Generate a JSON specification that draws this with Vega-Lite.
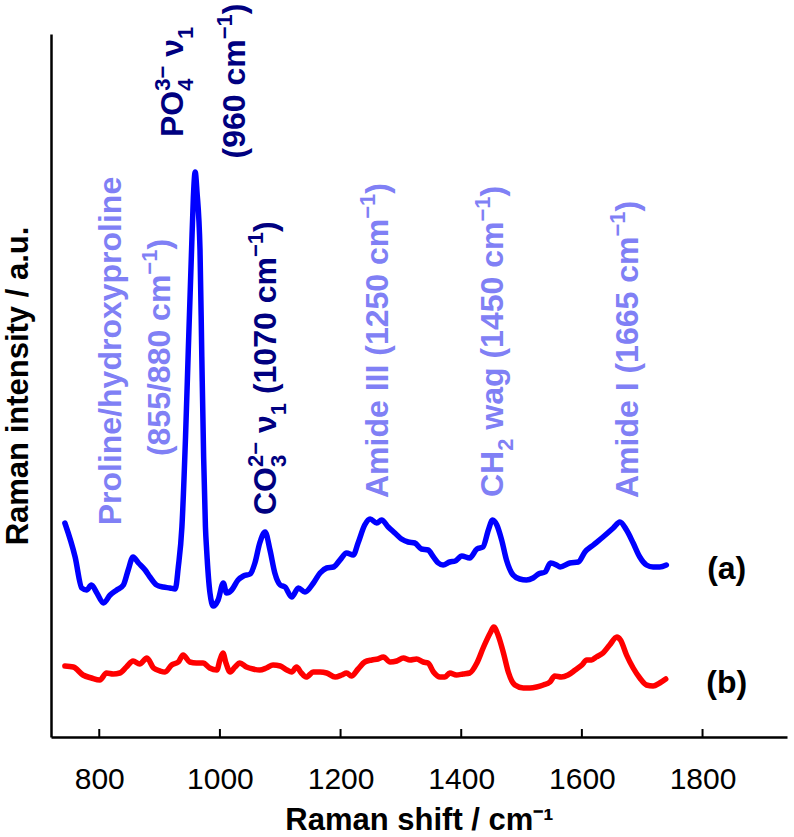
{
  "$schema": "https://vega.github.io/schema/vega-lite/v6.json",
  "width": 736,
  "height": 703,
  "autosize": {"type": "none"},
  "padding": {"left": 51, "top": 34, "right": 7, "bottom": 100},
  "config": {"view": {"stroke": null}, "font": "Liberation Sans"},
  "datasets": {
    "spectra": [
      {"s":"a","v":743,"i":214},{"s":"a","v":760,"i":180},{"s":"a","v":771,"i":149},{"s":"a","v":779,"i":147},{"s":"a","v":787,"i":152},{"s":"a","v":796,"i":144},{"s":"a","v":807,"i":134},{"s":"a","v":818,"i":142},{"s":"a","v":829,"i":147},{"s":"a","v":840,"i":152},{"s":"a","v":848,"i":167},{"s":"a","v":856,"i":180},{"s":"a","v":865,"i":174},{"s":"a","v":876,"i":167},{"s":"a","v":884,"i":160},{"s":"a","v":895,"i":152},{"s":"a","v":906,"i":150},{"s":"a","v":917,"i":149},{"s":"a","v":926,"i":148},{"s":"a","v":931,"i":170},{"s":"a","v":937,"i":210},{"s":"a","v":943,"i":300},{"s":"a","v":947.6,"i":387},{"s":"a","v":953,"i":487},{"s":"a","v":956,"i":540},{"s":"a","v":959,"i":565},{"s":"a","v":962,"i":545},{"s":"a","v":967,"i":487},{"s":"a","v":970,"i":380},{"s":"a","v":973,"i":280},{"s":"a","v":976,"i":210},{"s":"a","v":978,"i":187},{"s":"a","v":983.5,"i":144},{"s":"a","v":989,"i":131},{"s":"a","v":997,"i":137},{"s":"a","v":1005.6,"i":154},{"s":"a","v":1011,"i":144},{"s":"a","v":1019.5,"i":147},{"s":"a","v":1030,"i":157},{"s":"a","v":1039,"i":161},{"s":"a","v":1050,"i":163},{"s":"a","v":1058,"i":174},{"s":"a","v":1066,"i":194},{"s":"a","v":1075,"i":205},{"s":"a","v":1083,"i":187},{"s":"a","v":1091,"i":164},{"s":"a","v":1100,"i":152},{"s":"a","v":1108,"i":150},{"s":"a","v":1119,"i":140},{"s":"a","v":1130,"i":149},{"s":"a","v":1141,"i":145},{"s":"a","v":1155,"i":154},{"s":"a","v":1166,"i":164},{"s":"a","v":1177,"i":169},{"s":"a","v":1188,"i":170},{"s":"a","v":1199,"i":177},{"s":"a","v":1210,"i":184},{"s":"a","v":1221,"i":182},{"s":"a","v":1229,"i":194},{"s":"a","v":1240,"i":212},{"s":"a","v":1249,"i":218},{"s":"a","v":1260,"i":214},{"s":"a","v":1268,"i":217},{"s":"a","v":1279,"i":210},{"s":"a","v":1290,"i":204},{"s":"a","v":1301,"i":198},{"s":"a","v":1312,"i":195},{"s":"a","v":1323,"i":194},{"s":"a","v":1334,"i":188},{"s":"a","v":1345,"i":187},{"s":"a","v":1354,"i":180},{"s":"a","v":1362,"i":174},{"s":"a","v":1370,"i":172},{"s":"a","v":1381,"i":175},{"s":"a","v":1390,"i":176},{"s":"a","v":1401,"i":181},{"s":"a","v":1414,"i":179},{"s":"a","v":1426,"i":188},{"s":"a","v":1436,"i":190},{"s":"a","v":1445,"i":207},{"s":"a","v":1452,"i":217},{"s":"a","v":1459,"i":212},{"s":"a","v":1467,"i":197},{"s":"a","v":1475,"i":177},{"s":"a","v":1486,"i":162},{"s":"a","v":1497,"i":158},{"s":"a","v":1508,"i":157},{"s":"a","v":1519,"i":159},{"s":"a","v":1528,"i":163},{"s":"a","v":1539,"i":165},{"s":"a","v":1548,"i":174},{"s":"a","v":1558,"i":172},{"s":"a","v":1564,"i":170},{"s":"a","v":1580,"i":174},{"s":"a","v":1594,"i":175},{"s":"a","v":1605,"i":185},{"s":"a","v":1619,"i":192},{"s":"a","v":1635,"i":200},{"s":"a","v":1652,"i":209},{"s":"a","v":1663,"i":215},{"s":"a","v":1674,"i":207},{"s":"a","v":1685,"i":194},{"s":"a","v":1696,"i":180},{"s":"a","v":1707,"i":172},{"s":"a","v":1718,"i":170},{"s":"a","v":1729,"i":170},{"s":"a","v":1740,"i":172},
      {"s":"b","v":743,"i":71},{"s":"b","v":757,"i":70},{"s":"b","v":773,"i":62},{"s":"b","v":787,"i":59},{"s":"b","v":801,"i":57},{"s":"b","v":812,"i":64},{"s":"b","v":823,"i":63},{"s":"b","v":834,"i":64},{"s":"b","v":845,"i":70},{"s":"b","v":856,"i":76},{"s":"b","v":867,"i":73},{"s":"b","v":879,"i":79},{"s":"b","v":890,"i":69},{"s":"b","v":901,"i":66},{"s":"b","v":909,"i":65},{"s":"b","v":920,"i":72},{"s":"b","v":931,"i":75},{"s":"b","v":939,"i":82},{"s":"b","v":950,"i":75},{"s":"b","v":961,"i":74},{"s":"b","v":972,"i":74},{"s":"b","v":983,"i":69},{"s":"b","v":995,"i":67},{"s":"b","v":1000,"i":77},{"s":"b","v":1005,"i":84},{"s":"b","v":1010,"i":74},{"s":"b","v":1017,"i":65},{"s":"b","v":1025,"i":70},{"s":"b","v":1033,"i":74},{"s":"b","v":1044,"i":70},{"s":"b","v":1055,"i":68},{"s":"b","v":1066,"i":67},{"s":"b","v":1077,"i":69},{"s":"b","v":1088,"i":72},{"s":"b","v":1100,"i":71},{"s":"b","v":1111,"i":67},{"s":"b","v":1119,"i":65},{"s":"b","v":1127,"i":70},{"s":"b","v":1135,"i":64},{"s":"b","v":1143,"i":60},{"s":"b","v":1155,"i":65},{"s":"b","v":1166,"i":65},{"s":"b","v":1177,"i":64},{"s":"b","v":1191,"i":60},{"s":"b","v":1202,"i":62},{"s":"b","v":1210,"i":64},{"s":"b","v":1218,"i":61},{"s":"b","v":1229,"i":68},{"s":"b","v":1240,"i":75},{"s":"b","v":1252,"i":77},{"s":"b","v":1262,"i":78},{"s":"b","v":1271,"i":80},{"s":"b","v":1282,"i":75},{"s":"b","v":1293,"i":76},{"s":"b","v":1304,"i":79},{"s":"b","v":1315,"i":77},{"s":"b","v":1326,"i":78},{"s":"b","v":1337,"i":75},{"s":"b","v":1345,"i":74},{"s":"b","v":1354,"i":65},{"s":"b","v":1365,"i":60},{"s":"b","v":1373,"i":60},{"s":"b","v":1381,"i":64},{"s":"b","v":1392,"i":62},{"s":"b","v":1403,"i":63},{"s":"b","v":1414,"i":64},{"s":"b","v":1426,"i":74},{"s":"b","v":1437,"i":90},{"s":"b","v":1448,"i":104},{"s":"b","v":1454,"i":110},{"s":"b","v":1461,"i":102},{"s":"b","v":1470,"i":84},{"s":"b","v":1478,"i":65},{"s":"b","v":1489,"i":52},{"s":"b","v":1503,"i":49},{"s":"b","v":1514,"i":49},{"s":"b","v":1525,"i":50},{"s":"b","v":1536,"i":52},{"s":"b","v":1547,"i":55},{"s":"b","v":1555,"i":61},{"s":"b","v":1566,"i":60},{"s":"b","v":1577,"i":62},{"s":"b","v":1589,"i":67},{"s":"b","v":1600,"i":72},{"s":"b","v":1608,"i":77},{"s":"b","v":1616,"i":77},{"s":"b","v":1624,"i":80},{"s":"b","v":1635,"i":84},{"s":"b","v":1646,"i":92},{"s":"b","v":1658,"i":100},{"s":"b","v":1664,"i":97},{"s":"b","v":1674,"i":82},{"s":"b","v":1685,"i":69},{"s":"b","v":1696,"i":59},{"s":"b","v":1707,"i":52},{"s":"b","v":1718,"i":51},{"s":"b","v":1729,"i":54},{"s":"b","v":1739,"i":58}
    ],
    "notes": [
      {"k":"main","g":"matrix","t":"Proline/hydroxyproline","x":836,"y":211.7},
      {"k":"main","g":"matrix","t":"(855/880 cm","x":917.3,"y":280.9},
      {"k":"sup","g":"matrix","t":"−1","x":917.3,"y":462.3},
      {"k":"main","g":"matrix","t":")","x":917.3,"y":487.4},
      {"k":"main","g":"mineral","t":"PO","x":938.8,"y":600},
      {"k":"sup","g":"mineral","t":"3−","x":938.8,"y":646.2},
      {"k":"sub","g":"mineral","t":"4","x":938.8,"y":646.2},
      {"k":"main","g":"mineral","t":"ν","x":938.8,"y":680.2},
      {"k":"sub","g":"mineral","t":"1","x":938.8,"y":698},
      {"k":"main","g":"mineral","t":"(960 cm","x":1041.6,"y":578.5},
      {"k":"sup","g":"mineral","t":"−1","x":1041.6,"y":697.7},
      {"k":"main","g":"mineral","t":")","x":1041.6,"y":722.8},
      {"k":"main","g":"mineral","t":"CO","x":1093,"y":222},
      {"k":"sup","g":"mineral","t":"2−","x":1093,"y":270},
      {"k":"sub","g":"mineral","t":"3","x":1093,"y":270},
      {"k":"main","g":"mineral","t":"ν","x":1093,"y":304},
      {"k":"sub","g":"mineral","t":"1","x":1093,"y":321.8},
      {"k":"main","g":"mineral","t":"(1070 cm","x":1093,"y":342.9},
      {"k":"sup","g":"mineral","t":"−1","x":1093,"y":479.9},
      {"k":"main","g":"mineral","t":")","x":1093,"y":505},
      {"k":"main","g":"matrix","t":"Amide III (1250 cm","x":1278.6,"y":239},
      {"k":"sup","g":"matrix","t":"−1","x":1278.6,"y":518.2},
      {"k":"main","g":"matrix","t":")","x":1278.6,"y":543.3},
      {"k":"main","g":"matrix","t":"CH","x":1469.2,"y":240},
      {"k":"sub","g":"matrix","t":"2","x":1469.2,"y":286.2},
      {"k":"main","g":"matrix","t":"wag (1450 cm","x":1469.2,"y":307.3},
      {"k":"sup","g":"matrix","t":"−1","x":1469.2,"y":515.4},
      {"k":"main","g":"matrix","t":")","x":1469.2,"y":540.5},
      {"k":"main","g":"matrix","t":"Amide I (1665 cm","x":1693,"y":239},
      {"k":"sup","g":"matrix","t":"−1","x":1693,"y":500.4},
      {"k":"main","g":"matrix","t":")","x":1693,"y":525.5}
    ],
    "tags": [
      {"t":"(a)","x":1840,"y":168},
      {"t":"(b)","x":1840,"y":54}
    ],
    "ticks": [
      {"v":800},{"v":1000},{"v":1200},{"v":1400},{"v":1600},{"v":1800}
    ]
  },
  "layer": [
    {
      "data": {"name": "spectra"},
      "mark": {"type": "line", "strokeWidth": 5.5, "interpolate": "monotone", "strokeCap": "round", "strokeJoin": "round"},
      "encoding": {
        "x": {"field": "v", "type": "quantitative",
          "scale": {"domain": [720, 1940], "nice": false, "zero": false},
          "axis": {"values": [800, 1000, 1200, 1400, 1600, 1800], "format": "d", "grid": false, "ticks": false,
            "title": "Raman shift / cm⁻¹", "titleFontSize": 31, "titleFontWeight": "bold", "titleColor": "black", "titleFont": "Liberation Sans", "titlePadding": 11,
            "labelFontSize": 30, "labelColor": "black", "labelFont": "Liberation Sans", "labelPadding": 27, "labelFlush": false,
            "domainColor": "black", "domainWidth": 2.5}},
        "y": {"field": "i", "type": "quantitative",
          "scale": {"domain": [0, 703], "nice": false, "zero": false},
          "axis": {"labels": false, "ticks": false, "grid": false, "domainColor": "black", "domainWidth": 2.5,
            "title": "Raman intensity / a.u.", "titleFontSize": 31, "titleFontWeight": "bold", "titleColor": "black", "titleFont": "Liberation Sans", "titlePadding": 17}},
        "color": {"field": "s", "type": "nominal",
          "scale": {"domain": ["a", "b", "mineral", "matrix"], "range": ["#0000ff", "#ff0000", "#000080", "#8080f5"]}, "legend": null}
      }
    },
    {
      "data": {"name": "ticks"},
      "mark": {"type": "rule", "color": "black", "strokeWidth": 2},
      "encoding": {
        "x": {"field": "v", "type": "quantitative"},
        "y": {"datum": 0},
        "y2": {"datum": 8}
      }
    },
    {
      "data": {"name": "notes"},
      "transform": [{"filter": "datum.k === 'main'"}],
      "mark": {"type": "text", "angle": 270, "align": "left", "baseline": "alphabetic", "fontSize": 32, "fontWeight": "bold", "font": "Liberation Sans"},
      "encoding": {
        "x": {"field": "x", "type": "quantitative"},
        "y": {"field": "y", "type": "quantitative"},
        "text": {"field": "t"},
        "color": {"field": "g", "type": "nominal", "scale": {"domain": ["a", "b", "mineral", "matrix"], "range": ["#0000ff", "#ff0000", "#000080", "#8080f5"]}, "legend": null}
      }
    },
    {
      "data": {"name": "notes"},
      "transform": [{"filter": "datum.k === 'sup'"}],
      "mark": {"type": "text", "angle": 270, "align": "left", "baseline": "alphabetic", "fontSize": 22, "fontWeight": "bold", "font": "Liberation Sans", "dy": -13},
      "encoding": {
        "x": {"field": "x", "type": "quantitative"},
        "y": {"field": "y", "type": "quantitative"},
        "text": {"field": "t"},
        "color": {"field": "g", "type": "nominal", "scale": {"domain": ["a", "b", "mineral", "matrix"], "range": ["#0000ff", "#ff0000", "#000080", "#8080f5"]}, "legend": null}
      }
    },
    {
      "data": {"name": "notes"},
      "transform": [{"filter": "datum.k === 'sub'"}],
      "mark": {"type": "text", "angle": 270, "align": "left", "baseline": "alphabetic", "fontSize": 22, "fontWeight": "bold", "font": "Liberation Sans", "dy": 10},
      "encoding": {
        "x": {"field": "x", "type": "quantitative"},
        "y": {"field": "y", "type": "quantitative"},
        "text": {"field": "t"},
        "color": {"field": "g", "type": "nominal", "scale": {"domain": ["a", "b", "mineral", "matrix"], "range": ["#0000ff", "#ff0000", "#000080", "#8080f5"]}, "legend": null}
      }
    },
    {
      "data": {"name": "tags"},
      "mark": {"type": "text", "align": "center", "baseline": "middle", "fontSize": 32, "fontWeight": "bold", "font": "Liberation Sans", "color": "black"},
      "encoding": {
        "x": {"field": "x", "type": "quantitative"},
        "y": {"field": "y", "type": "quantitative"},
        "text": {"field": "t"}
      }
    }
  ]
}
